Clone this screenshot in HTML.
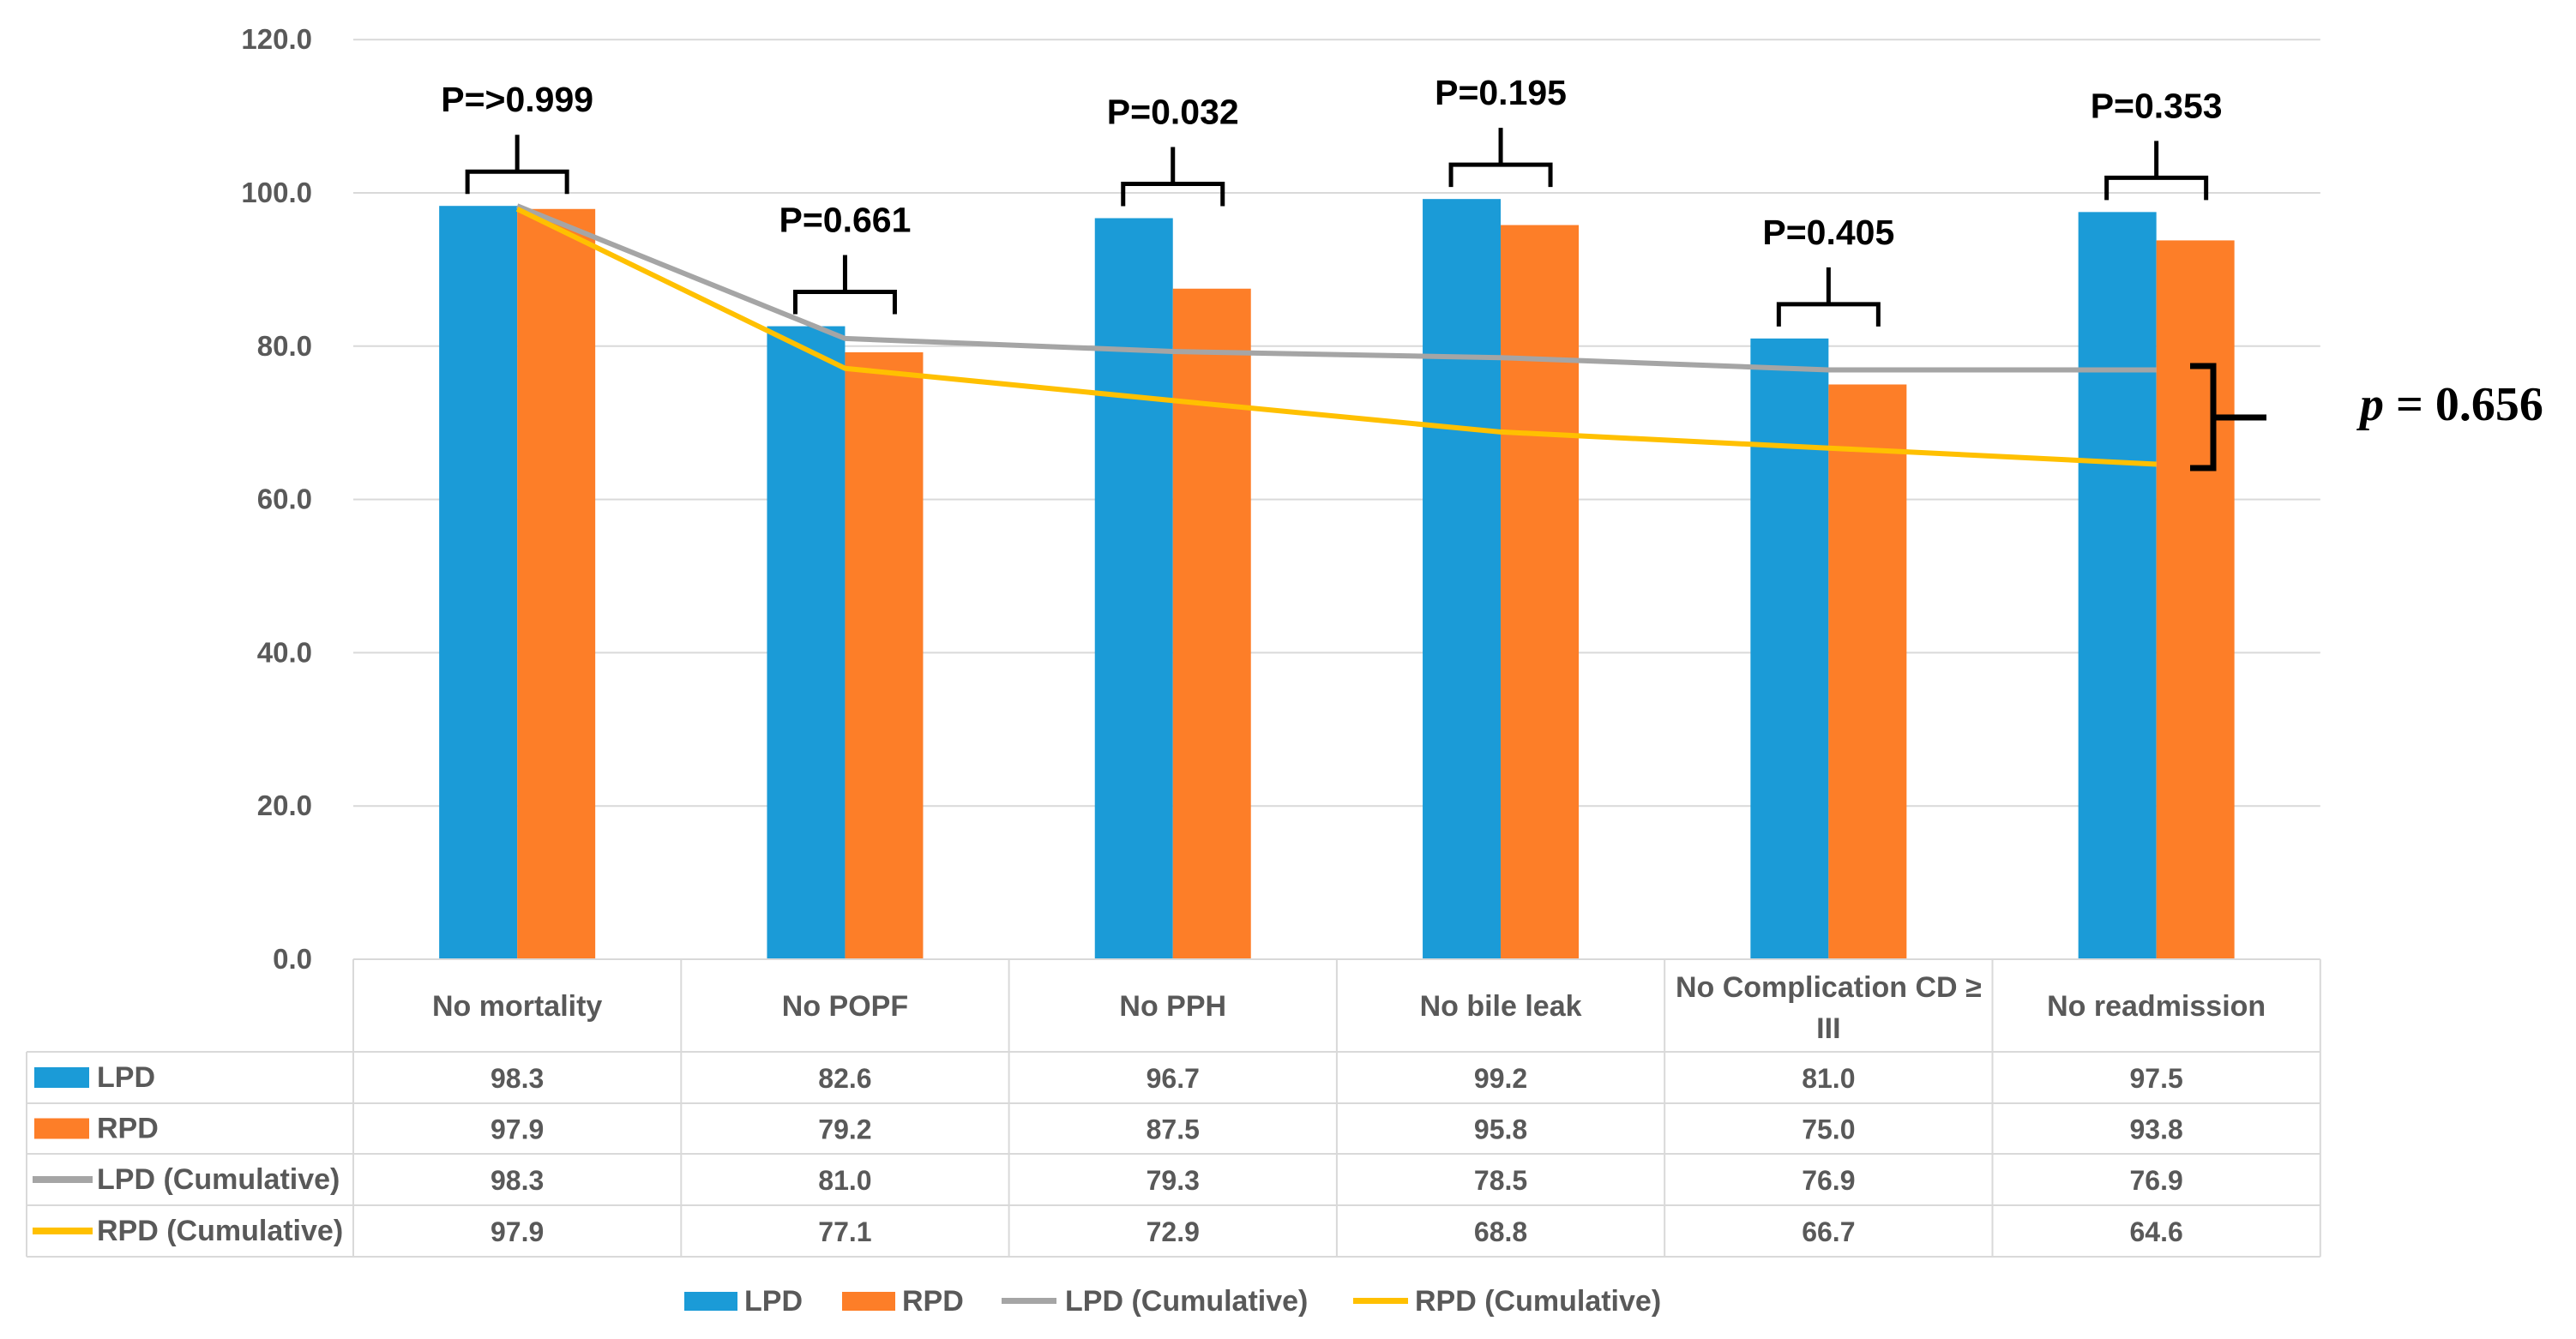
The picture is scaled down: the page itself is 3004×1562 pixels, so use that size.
<!DOCTYPE html>
<html><head><meta charset="utf-8"><style>
html,body{margin:0;padding:0;background:#fff;}
svg{display:block;}
text{font-family:"Liberation Sans",sans-serif;font-weight:bold;}
</style></head><body>
<svg id="chart" width="3004" height="1562" viewBox="0 0 3004 1562" xmlns="http://www.w3.org/2000/svg"></svg>
<script>
const categories = ["No mortality","No POPF","No PPH","No bile leak","No Complication CD \u2265|III","No readmission"];
const lpd = [98.3,82.6,96.7,99.2,81.0,97.5];
const rpd = [97.9,79.2,87.5,95.8,75.0,93.8];
const lpdCum = [98.3,81.0,79.3,78.5,76.9,76.9];
const rpdCum = [97.9,77.1,72.9,68.8,66.7,64.6];
const pValues = ["P=>0.999","P=0.661","P=0.032","P=0.195","P=0.405","P=0.353"];
const yTicks = [0,20,40,60,80,100,120];

const svg = document.getElementById('chart');
const NS = 'http://www.w3.org/2000/svg';
const X0 = 412, CW = 382.3, Y0 = 1119, YS = 8.94;
const GRAY = '#595959';
function y(v){ return Y0 - v*YS; }
function cx(i){ return X0 + CW*i + CW/2; }
function mk(tag, attrs, parent){
  const e = document.createElementNS(NS, tag);
  for (const k in attrs) e.setAttribute(k, attrs[k]);
  (parent||svg).appendChild(e);
  return e;
}
function txt(s, attrs, parent){ const t = mk('text', attrs, parent); t.textContent = s; return t; }

// gridlines + y labels
const grid = mk('g', {});


yTicks.forEach(v => {
  if (v > 0) {
    const l = mk('line', {x1:X0, x2:X0+CW*6, y1:y(v), y2:y(v), stroke:'#d9d9d9', 'stroke-width':2}, grid);
    
    
  }
  const t = txt(v.toFixed(1), {x:364, y:y(v)+11, 'text-anchor':'end', 'font-size':33, fill:GRAY}, grid);
  
  
});

// bars
const BW = 91;
categories.forEach((c, i) => {
  const b1 = mk('rect', {x:cx(i)-BW, y:y(lpd[i]), width:BW, height:y(0)-y(lpd[i]), fill:'#1b9bd7'});
  
  
  const b2 = mk('rect', {x:cx(i), y:y(rpd[i]), width:BW, height:y(0)-y(rpd[i]), fill:'#fd7e28'});
  
  
});

// cumulative lines
function linePts(arr){ return arr.map((v,i)=>cx(i)+','+y(v)).join(' '); }
const gl = mk('polyline', {points:linePts(lpdCum), fill:'none', stroke:'#a5a5a5', 'stroke-width':6, 'stroke-linejoin':'round'});


const yl = mk('polyline', {points:linePts(rpdCum), fill:'none', stroke:'#ffc000', 'stroke-width':6, 'stroke-linejoin':'round'});



// p-value braces
categories.forEach((c, i) => {
  const top = y(Math.max(lpd[i], rpd[i]));
  const b = top - 14, h = b - 26, st = b - 69;
  const x = cx(i);
  const br = mk('path', {d:`M${x-58},${b} L${x-58},${h} L${x+58},${h} L${x+58},${b} M${x},${h} L${x},${st}`, fill:'none', stroke:'#000', 'stroke-width':5});
  
  
  const t = txt(pValues[i], {x:x, y:b-96, 'text-anchor':'middle', 'font-size':41, fill:'#000'});
  
  
});

// overall bracket
const ob = mk('path', {d:'M2554,427 L2581,427 L2581,546 L2554,546 M2581,487 L2643,487', fill:'none', stroke:'#000', 'stroke-width':7});


const pt = mk('text', {x:2752, y:490, 'font-size':56, fill:'#000', style:'font-family:"Liberation Serif",serif;font-weight:bold'});


const pi = document.createElementNS(NS, 'tspan'); pi.setAttribute('font-style','italic'); pi.textContent = 'p'; pt.appendChild(pi);
const pr = document.createElementNS(NS, 'tspan'); pr.textContent = ' = 0.656'; pt.appendChild(pr);

// data table
const T = mk('g', {});


const rowsY = [1119, 1227, 1287, 1346, 1406, 1466];
const TL = 31, TR = X0 + CW*6;
const tc = '#d9d9d9';
mk('line', {x1:X0, x2:TR, y1:rowsY[0], y2:rowsY[0], stroke:tc, 'stroke-width':2}, T);
for (let r = 1; r < rowsY.length; r++) mk('line', {x1:TL, x2:TR, y1:rowsY[r], y2:rowsY[r], stroke:tc, 'stroke-width':2}, T);
mk('line', {x1:TL, x2:TL, y1:rowsY[1], y2:rowsY[5], stroke:tc, 'stroke-width':2}, T);
for (let i = 0; i <= 6; i++) mk('line', {x1:X0+CW*i, x2:X0+CW*i, y1:rowsY[0], y2:rowsY[5], stroke:tc, 'stroke-width':2}, T);

categories.forEach((c, i) => {
  const parts = c.split('|');
  if (parts.length === 1) {
    const t = txt(c, {x:cx(i), y:1185, 'text-anchor':'middle', 'font-size':34, fill:GRAY}, T);
    
    
  } else {
    const t1 = txt(parts[0], {x:cx(i), y:1163, 'text-anchor':'middle', 'font-size':34, fill:GRAY}, T);
    
    
    const t2 = txt(parts[1], {x:cx(i), y:1211, 'text-anchor':'middle', 'font-size':34, fill:GRAY}, T);
    
    
  }
});

const rowNames = ["LPD","RPD","LPD (Cumulative)","RPD (Cumulative)"];
const rowData = [lpd, rpd, lpdCum, rpdCum];
const rowColors = ['#1b9bd7','#fd7e28','#a5a5a5','#ffc000'];
rowNames.forEach((n, r) => {
  const mid = (rowsY[r+1] + rowsY[r+2]) / 2;
  if (r < 2) mk('rect', {x:40, y:mid-12, width:64, height:24, fill:rowColors[r]}, T);
  else mk('rect', {x:38, y:mid-4, width:70, height:8, fill:rowColors[r]}, T);
  const t = txt(n, {x:113, y:mid+11, 'font-size':34, fill:GRAY}, T);
  
  
  rowData[r].forEach((v, i) => {
    const c = txt(v.toFixed(1), {x:cx(i), y:mid+12, 'text-anchor':'middle', 'font-size':32, fill:GRAY}, T);
    
    
  });
});

// legend
const L = mk('g', {});


const legItems = [
  {n:'LPD', x:798, tx:868, c:'#1b9bd7', bar:true},
  {n:'RPD', x:982, tx:1052, c:'#fd7e28', bar:true},
  {n:'LPD (Cumulative)', x:1168, tx:1242, c:'#a5a5a5', bar:false},
  {n:'RPD (Cumulative)', x:1578, tx:1650, c:'#ffc000', bar:false}
];
legItems.forEach(it => {
  const g = mk('g', {}, L);
  
  
  if (it.bar) mk('rect', {x:it.x, y:1507, width:62, height:22, fill:it.c}, g);
  else mk('rect', {x:it.x, y:1514, width:64, height:7, fill:it.c}, g);
  txt(it.n, {x:it.tx, y:1529, 'font-size':34, fill:GRAY}, g);
});
</script>
</body></html>
